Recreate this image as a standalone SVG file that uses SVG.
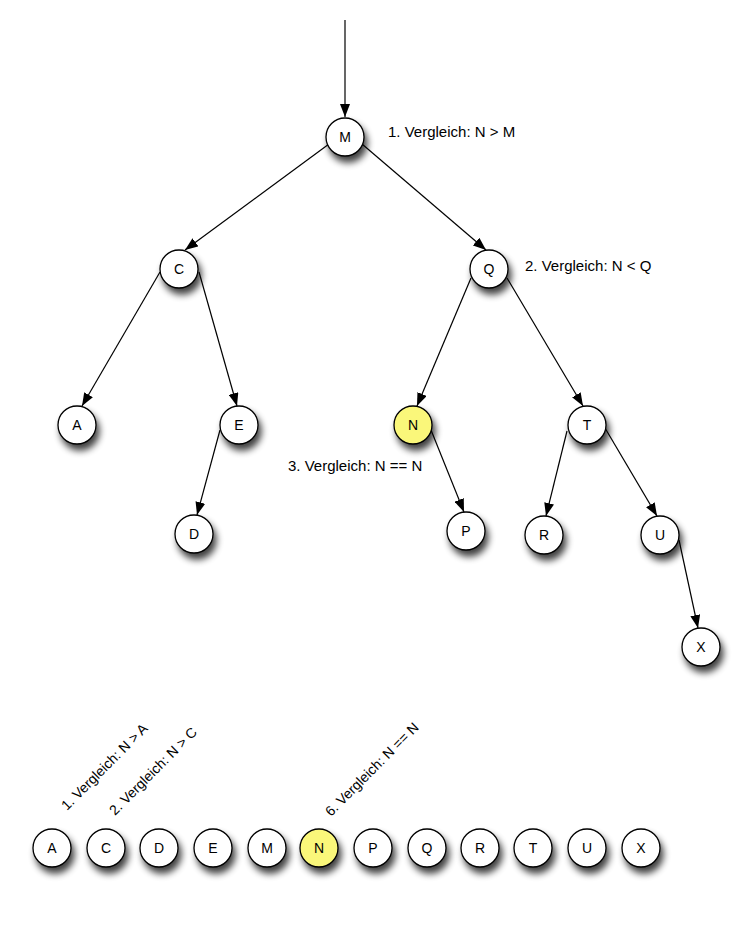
<svg xmlns="http://www.w3.org/2000/svg" width="755" height="929" viewBox="0 0 755 929">
<style>
.n circle{fill:#fff;stroke:#000;stroke-width:1.3;filter:url(#sh)}
.n.hl circle{fill:#faf77a}
.n text{font-family:"Liberation Sans",Arial,sans-serif;font-size:14px;fill:#000;text-anchor:middle}
.lbl{font-family:"Liberation Sans",Arial,sans-serif;font-size:15px;fill:#000}
.rl{font-family:"Liberation Sans",Arial,sans-serif;font-size:14px;fill:#000}
#edges line{stroke:#000;stroke-width:1.2;marker-end:url(#ah)}
</style>
<defs>
<filter id="sh" x="-50%" y="-50%" width="220%" height="220%">
<feGaussianBlur in="SourceAlpha" stdDeviation="3.5"/>
<feOffset dx="3" dy="6" result="b"/>
<feComponentTransfer><feFuncA type="linear" slope="0.75"/></feComponentTransfer>
<feMerge><feMergeNode/><feMergeNode in="SourceGraphic"/></feMerge>
</filter>
<marker id="ah" viewBox="0 0 13 10" refX="13" refY="5" markerWidth="13" markerHeight="10" markerUnits="userSpaceOnUse" orient="auto">
<path d="M0,0 L13,5 L0,10 Z" fill="#000"/>
</marker>
</defs>
<rect width="755" height="929" fill="#fff"/>
<g id="edges">
<line x1="345" y1="20" x2="345" y2="117"/>
<line x1="329" y1="144" x2="185" y2="250"/>
<line x1="362" y1="144" x2="486" y2="250"/>
<line x1="160" y1="272" x2="82" y2="406"/>
<line x1="199" y1="272" x2="237" y2="406"/>
<line x1="471" y1="278" x2="417" y2="406"/>
<line x1="507" y1="278" x2="583" y2="406"/>
<line x1="220" y1="430" x2="197" y2="515"/>
<line x1="431" y1="430" x2="464" y2="512"/>
<line x1="567" y1="431" x2="546" y2="516"/>
<line x1="605" y1="428" x2="657" y2="516"/>
<line x1="679" y1="540" x2="698" y2="628"/>
</g>
<g id="tM" class="n"><circle cx="345" cy="137" r="19"/><text x="345" y="142">M</text></g>
<g id="tC" class="n"><circle cx="179" cy="269" r="19"/><text x="179" y="274">C</text></g>
<g id="tQ" class="n"><circle cx="489" cy="269" r="19"/><text x="489" y="274">Q</text></g>
<g id="tA" class="n"><circle cx="77" cy="425" r="19"/><text x="77" y="430">A</text></g>
<g id="tE" class="n"><circle cx="239" cy="425" r="19"/><text x="239" y="430">E</text></g>
<g id="tN" class="n hl"><circle cx="413" cy="425" r="19"/><text x="413" y="430">N</text></g>
<g id="tT" class="n"><circle cx="587" cy="425" r="19"/><text x="587" y="430">T</text></g>
<g id="tD" class="n"><circle cx="194" cy="534" r="19"/><text x="194" y="539">D</text></g>
<g id="tP" class="n"><circle cx="466" cy="531" r="19"/><text x="466" y="536">P</text></g>
<g id="tR" class="n"><circle cx="544" cy="535" r="19"/><text x="544" y="540">R</text></g>
<g id="tU" class="n"><circle cx="660" cy="535" r="19"/><text x="660" y="540">U</text></g>
<g id="tX" class="n"><circle cx="701" cy="647" r="19"/><text x="701" y="652">X</text></g>
<text class="lbl" x="388" y="137">1. Vergleich: N &gt; M</text>
<text class="lbl" x="525" y="271">2. Vergleich: N &lt; Q</text>
<text class="lbl" x="288" y="471">3. Vergleich: N == N</text>
<g id="row">
<g id="lA" class="n"><circle cx="52" cy="848" r="19"/><text x="52" y="853">A</text></g>
<g id="lC" class="n"><circle cx="106" cy="848" r="19"/><text x="106" y="853">C</text></g>
<g id="lD" class="n"><circle cx="159" cy="848" r="19"/><text x="159" y="853">D</text></g>
<g id="lE" class="n"><circle cx="213" cy="848" r="19"/><text x="213" y="853">E</text></g>
<g id="lM" class="n"><circle cx="267" cy="848" r="19"/><text x="267" y="853">M</text></g>
<g id="lN" class="n hl"><circle cx="319" cy="848" r="19"/><text x="319" y="853">N</text></g>
<g id="lP" class="n"><circle cx="373" cy="848" r="19"/><text x="373" y="853">P</text></g>
<g id="lQ" class="n"><circle cx="427" cy="848" r="19"/><text x="427" y="853">Q</text></g>
<g id="lR" class="n"><circle cx="480" cy="848" r="19"/><text x="480" y="853">R</text></g>
<g id="lT" class="n"><circle cx="533" cy="848" r="19"/><text x="533" y="853">T</text></g>
<g id="lU" class="n"><circle cx="587" cy="848" r="19"/><text x="587" y="853">U</text></g>
<g id="lX" class="n"><circle cx="641" cy="848" r="19"/><text x="641" y="853">X</text></g>
</g>
<text class="rl" transform="translate(67,811) rotate(-45)">1. Vergleich: N &gt; A</text>
<text class="rl" transform="translate(115,816) rotate(-45)">2. Vergleich: N &gt; C</text>
<text class="rl" transform="translate(331,817) rotate(-45)">6. Vergleich: N == N</text>
</svg>
